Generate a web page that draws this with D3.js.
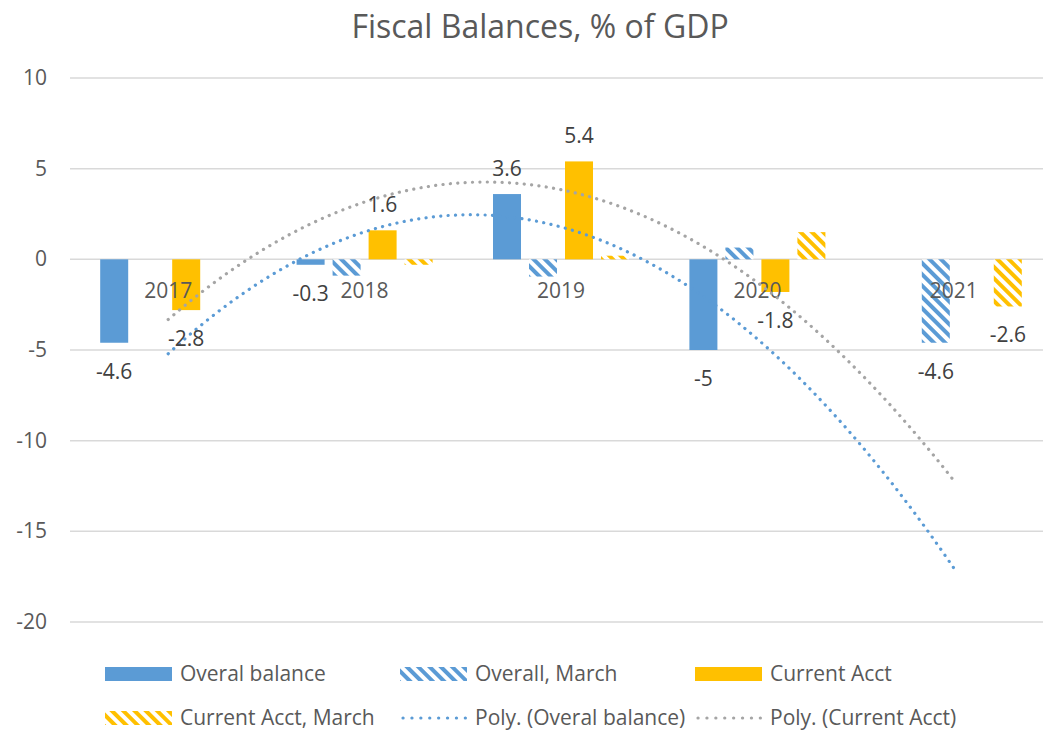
<!DOCTYPE html>
<html>
<head>
<meta charset="utf-8">
<script src="https://cdn.jsdelivr.net/npm/d3@7"></script>
<style>
  body { margin: 0; background: #fff; }
  text { font-family: "Open Sans", sans-serif; fill: #595959; }
</style>
</head>
<body>
<svg width="1043" height="731"></svg>
<script>
var years = ["2017", "2018", "2019", "2020", "2021"];
var overalBalance = [-4.6, -0.3, 3.6, -5, null];
var overallMarch = [null, -0.9, -0.95, 0.65, -4.6];
var currentAcct = [-2.8, 1.6, 5.4, -1.8, null];
var currentAcctMarch = [null, -0.3, 0.2, 1.5, -2.6];
var marchLabelYears = ["2021"];
var yTicks = [-20, -15, -10, -5, 0, 5, 10];

var blue = "#5b9bd5", orange = "#ffc000", grey = "#a5a5a5";

var series = [
  {name: "Overal balance", values: overalBalance, color: blue, hatch: false, labelAll: true},
  {name: "Overall, March", values: overallMarch, color: blue, hatch: true, labelAll: false},
  {name: "Current Acct", values: currentAcct, color: orange, hatch: false, labelAll: true},
  {name: "Current Acct, March", values: currentAcctMarch, color: orange, hatch: true, labelAll: false}
];

var svg = d3.select("svg"),
    plotLeft = 70, plotRight = 1052, plotTop = 78, plotBottom = 622;

// hatch patterns
var defs = svg.append("defs");
[["hatch-blue", blue], ["hatch-orange", orange]].forEach(function(p) {
  var pat = defs.append("pattern")
      .attr("id", p[0])
      .attr("patternUnits", "userSpaceOnUse")
      .attr("width", 8).attr("height", 8)
      .attr("patternTransform", "rotate(-45)");
  pat.append("rect").attr("width", 8).attr("height", 8).attr("fill", "#fff");
  pat.append("rect").attr("width", 4).attr("height", 8).attr("fill", p[1]);
});

var x = d3.scaleBand().domain(years).range([plotLeft, plotRight]);
var bw = x.bandwidth();
var x1 = d3.scaleBand()
    .domain(series.map(function(s) { return s.name; }))
    .range([bw / 2 - 72, bw / 2 + 72])
    .paddingInner(0.222).paddingOuter(0.111);
var y = d3.scaleLinear().domain([-20, 10]).range([plotBottom, plotTop]);

// title
svg.append("text")
    .attr("x", 540).attr("y", 38)
    .attr("text-anchor", "middle")
    .style("font-size", "32px")
    .text("Fiscal Balances, % of GDP");

// gridlines + y labels
var yAxis = svg.append("g");
yAxis.selectAll("line").data(yTicks).enter().append("line")
    .attr("x1", plotLeft).attr("x2", plotRight)
    .attr("y1", function(d) { return y(d); })
    .attr("y2", function(d) { return y(d); })
    .attr("stroke", "#d9d9d9").attr("stroke-width", 1.5);
yAxis.selectAll("text").data(yTicks).enter().append("text")
    .attr("x", 47).attr("y", function(d) { return y(d) + 7; })
    .attr("text-anchor", "end")
    .style("font-size", "21px")
    .text(function(d) { return d; });

// bars
series.forEach(function(s) {
  svg.append("g").selectAll("rect")
    .data(years.map(function(yr, i) { return {year: yr, v: s.values[i]}; })
      .filter(function(d) { return d.v !== null; }))
    .enter().append("rect")
    .attr("x", function(d) { return x(d.year) + x1(s.name); })
    .attr("width", x1.bandwidth())
    .attr("y", function(d) { return y(Math.max(0, d.v)); })
    .attr("height", function(d) { return Math.abs(y(d.v) - y(0)); })
    .attr("fill", s.hatch ? (s.color === blue ? "url(#hatch-blue)" : "url(#hatch-orange)") : s.color);
});

// category labels
svg.append("g").selectAll("text").data(years).enter().append("text")
    .attr("x", function(d) { return x(d) + bw / 2; })
    .attr("y", y(0) + 39)
    .attr("text-anchor", "middle")
    .style("font-size", "21px")
    .text(function(d) { return d; });

// polynomial (order 2) trendline, least squares on x = 1..n
function polyFit(vals) {
  var pts = [];
  vals.forEach(function(v, i) { if (v !== null) pts.push([i + 1, v]); });
  var S = [0, 0, 0, 0, 0], T = [0, 0, 0];
  pts.forEach(function(p) {
    for (var k = 0; k < 5; k++) S[k] += Math.pow(p[0], k);
    for (var k = 0; k < 3; k++) T[k] += p[1] * Math.pow(p[0], k);
  });
  var A = [[S[0], S[1], S[2], T[0]], [S[1], S[2], S[3], T[1]], [S[2], S[3], S[4], T[2]]];
  for (var i = 0; i < 3; i++) {
    for (var j = i + 1; j < 3; j++) {
      var f = A[j][i] / A[i][i];
      for (var k = i; k < 4; k++) A[j][k] -= f * A[i][k];
    }
  }
  var c = [0, 0, 0];
  for (var i = 2; i >= 0; i--) {
    var s = A[i][3];
    for (var k = i + 1; k < 3; k++) s -= A[i][k] * c[k];
    c[i] = s / A[i][i];
  }
  return function(t) { return c[0] + c[1] * t + c[2] * t * t; };
}

var xt = d3.scaleLinear().domain([1, years.length])
    .range([x(years[0]) + bw / 2, x(years[years.length - 1]) + bw / 2]);
var line = d3.line().x(function(d) { return xt(d[0]); }).y(function(d) { return y(d[1]); });

[[currentAcct, grey], [overalBalance, blue]].forEach(function(t) {
  var f = polyFit(t[0]);
  var pts = d3.range(0, 101).map(function(i) { var tt = 1 + i * (years.length - 1) / 100; return [tt, f(tt)]; });
  svg.append("path")
    .attr("d", line(pts))
    .attr("fill", "none")
    .attr("stroke", t[1])
    .attr("stroke-width", 3.2)
    .attr("stroke-linecap", "round")
    .attr("stroke-dasharray", "0.1,7.3");
});

// data labels
series.forEach(function(s) {
  var data = years.map(function(yr, i) { return {year: yr, v: s.values[i]}; })
    .filter(function(d) { return d.v !== null && (s.labelAll || marchLabelYears.indexOf(d.year) >= 0); });
  svg.append("g").selectAll("text").data(data).enter().append("text")
    .attr("x", function(d) { return x(d.year) + x1(s.name) + x1.bandwidth() / 2; })
    .attr("y", function(d) { return d.v >= 0 ? y(d.v) - 18 : y(d.v) + 36; })
    .attr("text-anchor", "middle")
    .style("font-size", "21px")
    .style("fill", "#404040")
    .text(function(d) { return d.v; });
});

// legend
var legendItems = [
  {name: "Overal balance", type: "bar", fill: blue},
  {name: "Overall, March", type: "bar", fill: "url(#hatch-blue)"},
  {name: "Current Acct", type: "bar", fill: orange},
  {name: "Current Acct, March", type: "bar", fill: "url(#hatch-orange)"},
  {name: "Poly. (Overal balance)", type: "line", fill: blue},
  {name: "Poly. (Current Acct)", type: "line", fill: grey}
];
var legendCols = [105, 400, 695], legendRows = [674, 718];
var lg = svg.append("g").selectAll("g").data(legendItems).enter().append("g")
    .attr("transform", function(d, i) {
      return "translate(" + legendCols[i % 3] + "," + legendRows[Math.floor(i / 3)] + ")";
    });
lg.filter(function(d) { return d.type === "bar"; }).append("rect")
    .attr("x", 0).attr("y", -7).attr("width", 67).attr("height", 14)
    .attr("fill", function(d) { return d.fill; });
lg.filter(function(d) { return d.type === "line"; }).append("line")
    .attr("x1", 3).attr("x2", 66).attr("y1", 0).attr("y2", 0)
    .attr("stroke", function(d) { return d.fill; })
    .attr("stroke-width", 3.2)
    .attr("stroke-linecap", "round")
    .attr("stroke-dasharray", "0.1,8.8");
lg.append("text")
    .attr("x", 75).attr("y", 7)
    .style("font-size", "21px")
    .text(function(d) { return d.name; });
</script>
</body>
</html>
